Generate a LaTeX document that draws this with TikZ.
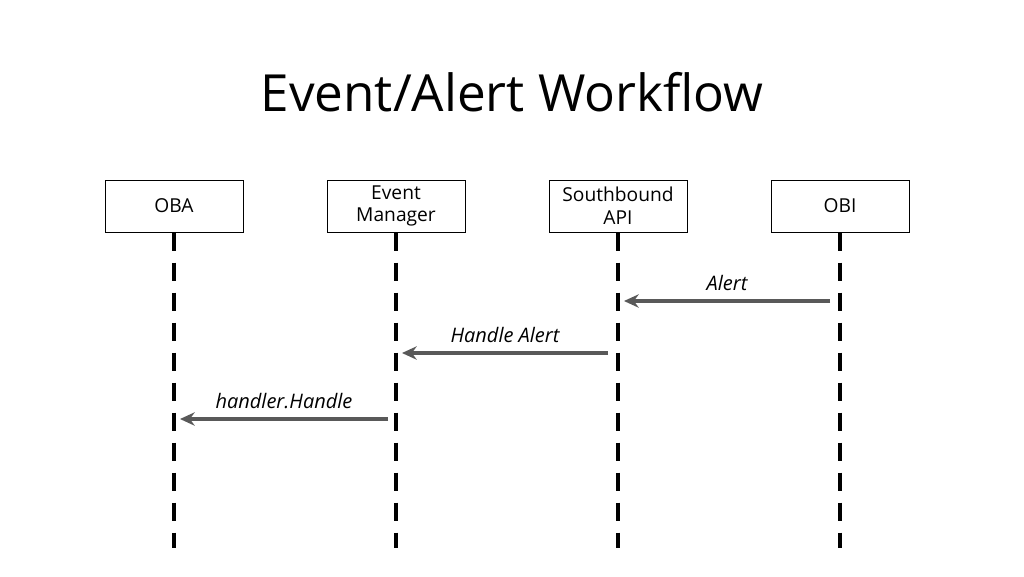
\documentclass[tikz,border=0pt]{standalone}
\usepackage{fontspec}
\setmainfont{Open Sans}
\usepackage{tikz}
\usetikzlibrary{arrows.meta,positioning}

\begin{document}
\begin{tikzpicture}[x=0.75pt, y=-0.75pt,
    actorbox/.style={rectangle, draw=black, line width=0.75pt, fill=white, minimum width=103.5pt, minimum height=39pt, align=center, font=\fontsize{14.4}{17}\selectfont, inner sep=0pt},
    lifeline/.style={line width=3pt, black, dash pattern=on 13.5pt off 9pt},
    msgarrow/.style={-{Stealth[length=11pt, width=10pt]}, line width=2.4pt, draw=black!65},
    msglabel/.style={font=\fontsize{15}{17}\selectfont\itshape, text=black}
  ]
    \useasboundingbox (0,0) rectangle (1024,576);

    \node[font=\fontsize{38.4}{44}\selectfont] (title) at (512,92) {Event/Alert Workflow};

    \node[actorbox] (oba) at (174,206) {OBA};
    \node[actorbox] (em) at (396,206) {Event\\Manager};
    \node[actorbox] (sb) at (618,206) {Southbound\\API};
    \node[actorbox] (obi) at (840,206) {OBI};

    \coordinate (obaend) at (174,548);
    \coordinate (emend) at (396,548);
    \coordinate (sbend) at (618,548);
    \coordinate (obiend) at (840,548);

    \draw[lifeline] (oba.south) -- (obaend);
    \draw[lifeline] (em.south) -- (emend);
    \draw[lifeline] (sb.south) -- (sbend);
    \draw[lifeline] (obi.south) -- (obiend);

    % messages
    \coordinate (a1) at (830,301);
    \coordinate (a2) at (624,301);
    \coordinate (b1) at (608,353);
    \coordinate (b2) at (402,353);
    \coordinate (c1) at (388,419);
    \coordinate (c2) at (180,419);

    \draw[msgarrow] (a1) -- (a2) node[msglabel, midway, above=3pt] (alert) {Alert};
    \draw[msgarrow] (b1) -- (b2) node[msglabel, midway, above=3pt] (handlealert) {Handle Alert};
    \draw[msgarrow] (c1) -- (c2) node[msglabel, midway, above=3pt] (handle) {handler.Handle};
  \end{tikzpicture}
\end{document}
